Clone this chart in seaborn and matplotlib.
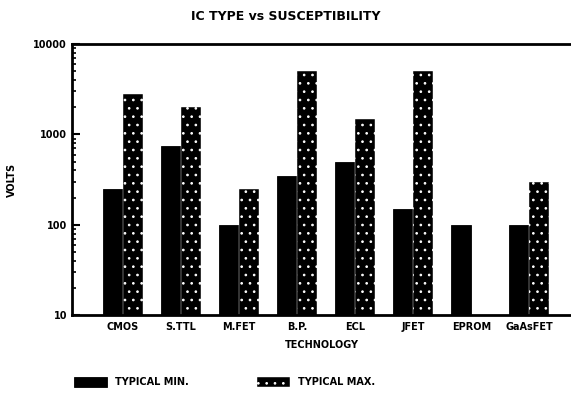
import numpy as np
import pandas as pd
import seaborn as sns
import matplotlib.pyplot as plt

# chart values
technologies = ['CMOS', 'S.TTL', 'M.FET', 'B.P.', 'ECL', 'JFET', 'EPROM', 'GaAsFET']
typical_min = [250, 750, 100, 350, 500, 150, 100, 100]
typical_max = [2800, 2000, 250, 5000, 1500, 5000, np.nan, 300]
series_names = ['TYPICAL MIN.', 'TYPICAL MAX.']

# long form table for seaborn
df = pd.DataFrame({
    'tech': technologies * 2,
    'volts': typical_min + typical_max,
    'series': [series_names[0]] * len(technologies) + [series_names[1]] * len(technologies),
})

sns.set_style('white')
plt.rcParams['font.family'] = ['DejaVu Sans']
plt.rcParams['text.color'] = 'black'
plt.rcParams['axes.labelcolor'] = 'black'
plt.rcParams['xtick.color'] = 'black'
plt.rcParams['ytick.color'] = 'black'
plt.rcParams['hatch.linewidth'] = 0.7

fig = plt.figure(figsize=(5.71, 3.94), dpi=100)
ax = fig.add_axes([0.126, 0.2, 0.874, 0.688])

sns.barplot(data=df, x='tech', y='volts', hue='series', order=technologies,
            hue_order=series_names, width=0.68, ax=ax, legend=False,
            errorbar=None, saturation=1)
ax.set_yscale('log')
ax.set_ylim(10, 10000)
ax.set_xlim(-0.88, 7.72)

# solid black for min, speckled black for max
for bar in ax.containers[0]:
    bar.set_facecolor('black')
    bar.set_edgecolor('black')
    bar.set_linewidth(0.6)
for bar in ax.containers[1]:
    bar.set_facecolor('black')
    bar.set_edgecolor('white')
    bar.set_hatch('..')
    bar.set_linewidth(0.3)

# axes styling
for side in ['left', 'top', 'bottom']:
    ax.spines[side].set_linewidth(2)
    ax.spines[side].set_color('black')
ax.spines['right'].set_visible(False)
ax.tick_params(axis='y', which='major', direction='in', length=6, width=1.5, left=True, labelsize=7)
ax.tick_params(axis='y', which='minor', direction='in', length=3, width=1.2, left=True)
ax.tick_params(axis='x', length=0, labelsize=7, pad=5)
ax.yaxis.set_major_formatter(plt.FuncFormatter(lambda v, loc: '{:d}'.format(int(v))))
for lbl in ax.get_xticklabels() + ax.get_yticklabels():
    lbl.set_fontweight('bold')

ax.set_xlabel('TECHNOLOGY', fontsize=7, fontweight='bold', labelpad=6)
ax.set_ylabel('VOLTS', fontsize=7, fontweight='bold', labelpad=12)
fig.suptitle('IC TYPE vs SUSCEPTIBILITY', fontsize=9, fontweight='bold', x=0.5, y=0.975)

# legend below the chart
handles = [ax.containers[0][0], ax.containers[1][0]]
fig.legend(handles, series_names, ncol=2, loc='lower left', bbox_to_anchor=(0.115, -0.005),
           frameon=False, handlelength=3.4, handleheight=1.1, handletextpad=0.8,
           columnspacing=7.0, prop={'weight': 'bold', 'size': 7})

plt.savefig('out.png', dpi=100)
